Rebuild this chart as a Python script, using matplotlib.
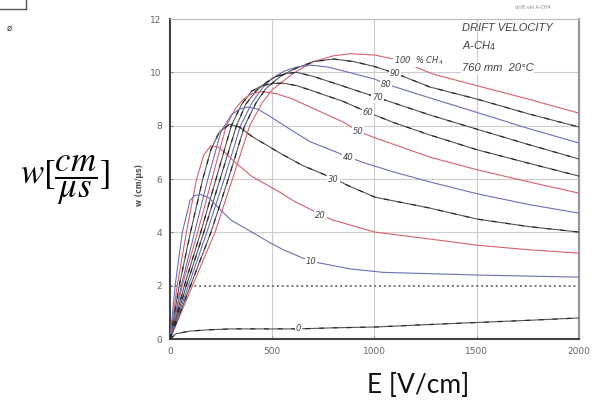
import matplotlib
matplotlib.use("Agg")
import matplotlib.pyplot as plt
from matplotlib.lines import Line2D

# Drift velocity in Ar-CH4 mixtures.
# E in V/cm, w in cm/us
E_100 = [0, 110, 220, 305, 390, 450, 500, 600, 700, 800, 880, 1000, 1125, 1280, 1500, 1750, 2000]
W_100 = [0, 2.0, 4.0, 6.0, 8.0, 8.85, 9.35, 9.95, 10.4, 10.62, 10.7, 10.65, 10.45, 9.95, 9.5, 9.0, 8.47]

E_90 = [0, 100, 200, 285, 365, 420, 470, 540, 600, 700, 800, 900, 1000, 1100, 1271, 1500, 1750, 2000]
W_90 = [0, 2.0, 4.0, 6.0, 8.0, 8.85, 9.4, 9.85, 10.1, 10.4, 10.5, 10.4, 10.22, 9.97, 9.45, 9.0, 8.45, 7.95]

E_80 = [0, 90, 180, 265, 345, 400, 450, 500, 560, 620, 690, 770, 850, 1000, 1061, 1271, 1500, 1750, 2000]
W_80 = [0, 2.0, 4.0, 6.0, 8.0, 8.85, 9.4, 9.78, 10.05, 10.2, 10.27, 10.2, 10.05, 9.75, 9.55, 9.04, 8.5, 7.9, 7.35]

E_70 = [0, 80, 165, 245, 325, 370, 420, 470, 520, 570, 620, 700, 800, 1017, 1271, 1500, 1750, 2000]
W_70 = [0, 2.0, 4.0, 6.0, 8.0, 8.8, 9.3, 9.62, 9.85, 9.96, 10.0, 9.85, 9.6, 9.05, 8.4, 7.87, 7.3, 6.75]

E_60 = [0, 70, 150, 225, 300, 350, 400, 450, 500, 550, 620, 700, 850, 968, 1100, 1271, 1500, 1750, 2000]
W_60 = [0, 2.0, 4.0, 6.0, 8.0, 8.8, 9.3, 9.5, 9.58, 9.6, 9.5, 9.3, 8.9, 8.5, 8.1, 7.65, 7.1, 6.6, 6.11]

E_50 = [0, 60, 135, 205, 275, 320, 360, 400, 450, 520, 600, 685, 846, 919, 993, 1271, 1500, 1750, 2000]
W_50 = [0, 2.0, 4.0, 6.0, 8.0, 8.65, 9.0, 9.2, 9.28, 9.2, 9.0, 8.7, 8.14, 7.8, 7.57, 6.82, 6.35, 5.9, 5.47]

E_40 = [0, 55, 120, 185, 250, 300, 340, 380, 430, 489, 600, 685, 875, 944, 1100, 1271, 1500, 1750, 2000]
W_40 = [0, 2.0, 4.0, 6.0, 7.8, 8.4, 8.62, 8.7, 8.62, 8.35, 7.8, 7.4, 6.82, 6.62, 6.25, 5.89, 5.45, 5.05, 4.72]

E_30 = [0, 45, 100, 160, 200, 240, 290, 340, 400, 538, 650, 807, 866, 1002, 1271, 1500, 1750, 2000]
W_30 = [0, 2.0, 4.0, 6.0, 7.1, 7.75, 8.05, 7.95, 7.6, 6.97, 6.5, 6.0, 5.77, 5.32, 4.91, 4.5, 4.22, 4.01]

E_20 = [0, 35, 80, 130, 165, 200, 235, 270, 308, 400, 538, 611, 743, 797, 1002, 1271, 1500, 1750, 2000]
W_20 = [0, 2.0, 4.0, 6.0, 6.9, 7.25, 7.2, 6.98, 6.7, 6.1, 5.5, 5.15, 4.65, 4.46, 4.01, 3.75, 3.52, 3.35, 3.22]

E_10 = [0, 25, 60, 98, 120, 150, 190, 245, 300, 391, 480, 553, 685, 880, 1042, 1271, 1500, 2000]
W_10 = [0, 2.0, 4.0, 5.2, 5.38, 5.42, 5.3, 4.85, 4.45, 4.05, 3.65, 3.35, 2.92, 2.63, 2.5, 2.45, 2.4, 2.32]

E_0 = [0, 30, 100, 200, 300, 500, 626, 800, 1000, 1200, 1500, 1750, 2000]
W_0 = [0, 0.2, 0.3, 0.35, 0.38, 0.38, 0.38, 0.42, 0.45, 0.52, 0.62, 0.7, 0.79]

LABELS = ["100  % CH$_4$", "90", "80", "70", "60", "50", "40", "30", "20", "10", "0"]
LABEL_E = [1215, 1100, 1055, 1015, 968, 919, 872, 800, 735, 690, 626]
LABEL_W = [10.45, 9.97, 9.54, 9.05, 8.5, 7.8, 6.82, 6.0, 4.65, 2.92, 0.38]

XTICKS = [0, 500, 1000, 1500, 2000]
YTICKS = [0, 2, 4, 6, 8, 10, 12]

RED = "#d9606a"
BLUE = "#6a6fb8"
BLACK = "#555555"

curves = [
    (E_100, W_100, RED, False),
    (E_90, W_90, BLACK, True),
    (E_80, W_80, BLUE, False),
    (E_70, W_70, BLACK, True),
    (E_60, W_60, BLACK, True),
    (E_50, W_50, RED, False),
    (E_40, W_40, BLUE, False),
    (E_30, W_30, BLACK, True),
    (E_20, W_20, RED, False),
    (E_10, W_10, BLUE, False),
    (E_0, W_0, BLACK, True),
]

fig = plt.figure(figsize=(5.97, 4.09), dpi=100)
ax = fig.add_axes([0.2848, 0.1711, 0.685, 0.7824])

for e, w, col, dark in curves:
    ax.plot(e, w, color=col, lw=0.8, zorder=3)
    if dark:
        ax.plot(e, w, color="#222222", lw=0.9, dashes=(4, 7), alpha=0.85, zorder=4)

for txt, x, y in zip(LABELS, LABEL_E, LABEL_W):
    ax.text(x, y, txt, fontsize=6, fontstyle="italic", color="#444444",
            ha="center", va="center", zorder=5,
            bbox=dict(facecolor="white", edgecolor="none", pad=0.6))

ax.set_xlim(0, 2000)
ax.set_ylim(0, 12)
ax.set_xticks(XTICKS)
ax.set_yticks(YTICKS)
ax.tick_params(labelsize=6.5, labelcolor="#666666", length=2, direction="in",
               color="#888888")
ax.tick_params(axis="x", pad=6)
ax.tick_params(axis="y", pad=6)

for x in XTICKS[1:-1]:
    ax.axvline(x, color="#cccccc", lw=0.8, zorder=1)
for y in YTICKS[1:-1]:
    if y == 2:
        ax.axhline(y, color="#777777", lw=1.4, ls=(0, (1, 1.5)), zorder=1)
    else:
        ax.axhline(y, color="#cccccc", lw=0.8, zorder=1)

ax.spines["left"].set_color("#444444")
ax.spines["left"].set_linewidth(1.5)
ax.spines["bottom"].set_color("#444444")
ax.spines["bottom"].set_linewidth(1.5)
ax.spines["right"].set_color("#999999")
ax.spines["right"].set_linewidth(1.6)
ax.spines["top"].set_color("#bbbbbb")
ax.spines["top"].set_linewidth(0.8)

# title block inside the plot
ax.text(1428, 11.66, "DRIFT VELOCITY", fontsize=8, fontstyle="italic",
        family="Liberation Sans", color="#444444", va="center", zorder=5)
ax.text(1428, 11.0, "A-CH$_4$", fontsize=8, fontstyle="italic",
        family="Liberation Sans", color="#444444", va="center", zorder=5)
ax.text(1428, 10.16, "760 mm  20°C", fontsize=8, fontstyle="italic",
        family="Liberation Sans", color="#444444", va="center", zorder=5,
        bbox=dict(facecolor="white", edgecolor="none", pad=0.5))

fig.text(0.862, 0.978, "drift vel A-CH4", fontsize=3.5, color="#888888")
fig.text(0.2345, 0.548, "w (cm/µs)", rotation=90, fontsize=5.5,
         fontweight="bold", color="#555555", ha="center", va="center")

# slide labels
plt.rcParams["mathtext.fontset"] = "stix"
fig.text(0.033, 0.56, r"$w[\dfrac{cm}{\mu s}]$", fontsize=25,
         ha="left", va="center", color="black")
fig.text(0.700, 0.058, "E [V/cm]", fontsize=19, family="Lato",
         ha="center", va="center", color="#111111")

# cut-off fragment in the top-left corner
fig.add_artist(Line2D([0.0, 0.043], [0.977, 0.977], color="#555555", lw=1.0))
fig.add_artist(Line2D([0.043, 0.043], [0.977, 1.0], color="#555555", lw=1.0))
fig.text(0.012, 0.925, "ø", fontsize=6, color="#333333")

fig.savefig("out.png", dpi=100)
